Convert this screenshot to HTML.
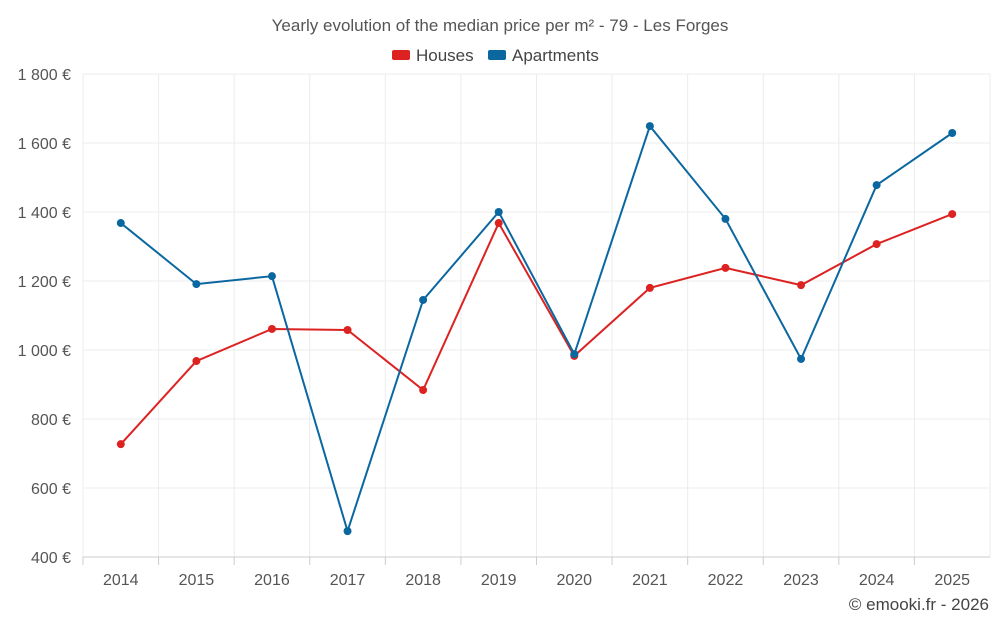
<!DOCTYPE html>
<html><head><meta charset="utf-8"><style>
body{margin:0;background:#fff;font-family:"Liberation Sans",sans-serif}
svg text{font-family:"Liberation Sans",sans-serif}
</style></head><body>
<svg id="c" width="1000" height="625"></svg>
<script>
const years=["2014","2015","2016","2017","2018","2019","2020","2021","2022","2023","2024","2025"];
const houses=[727,968,1061,1058,884,1368,983,1180,1238,1188,1307,1394];
const apartments=[1368,1191,1214,475,1145,1400,988,1649,1380,974,1478,1629];
const yTicks=[400,600,800,1000,1200,1400,1600,1800];
const yTickLabels=["400 €","600 €","800 €","1 000 €","1 200 €","1 400 €","1 600 €","1 800 €"];
const NS="http://www.w3.org/2000/svg";
const svg=document.getElementById('c');
const L=83,R=990,T=74,B=557;
const step=(R-L)/years.length;
function x(i){return L+step*(i+0.5);}
function y(v){return B-(v-400)/(1800-400)*(B-T);}
function mk(t,a,p){const e=document.createElementNS(NS,t);for(const k in a)e.setAttribute(k,a[k]);(p||svg).appendChild(e);return e;}
// grid
for(let i=0;i<=years.length;i++){const g=mk('line',{x1:L+step*i,x2:L+step*i,y1:T,y2:B,stroke:'#ececec'});

}
yTicks.forEach((v,i)=>{const g=mk('line',{x1:L,x2:R,y1:y(v),y2:y(v),stroke:i==0?'#ccc':'#ececec'});


const t=mk('text',{x:71,y:y(v)+6,'text-anchor':'end','font-size':16,fill:'#555'});t.textContent=yTickLabels[i];

});
years.forEach((yr,i)=>{const tk=mk('line',{x1:L+step*i,x2:L+step*i,y1:B,y2:B+8,stroke:'#ccc'});


const t=mk('text',{x:x(i),y:585,'text-anchor':'middle','font-size':16,fill:'#555'});t.textContent=yr;

});
function series(data,color,name){
 const pts=data.map((v,i)=>x(i)+','+y(v)).join(' ');
 const pl=mk('polyline',{points:pts,fill:'none',stroke:color,'stroke-width':2});
 
 
 data.forEach((v,i)=>{const c=mk('circle',{cx:x(i),cy:y(v),r:4,fill:color});
 
 });
}
series(houses,'#dd2222','houses');
series(apartments,'#0b67a0','apartments');
const title=mk('text',{x:500,y:31,'text-anchor':'middle','font-size':17,fill:'#555'});title.textContent='Yearly evolution of the median price per m² - 79 - Les Forges';


const lh=mk('rect',{x:392,y:50,width:18,height:10,fill:'#dd2222',rx:2});


const th=mk('text',{x:416,y:61,'font-size':17,fill:'#444'});th.textContent='Houses';


const la=mk('rect',{x:488,y:50,width:18,height:10,fill:'#0b67a0',rx:2});


const ta=mk('text',{x:512,y:61,'font-size':17,fill:'#444'});ta.textContent='Apartments';


const cr=mk('text',{x:989,y:610,'text-anchor':'end','font-size':17,fill:'#444'});cr.textContent='© emooki.fr - 2026';


</script>
</body></html>
